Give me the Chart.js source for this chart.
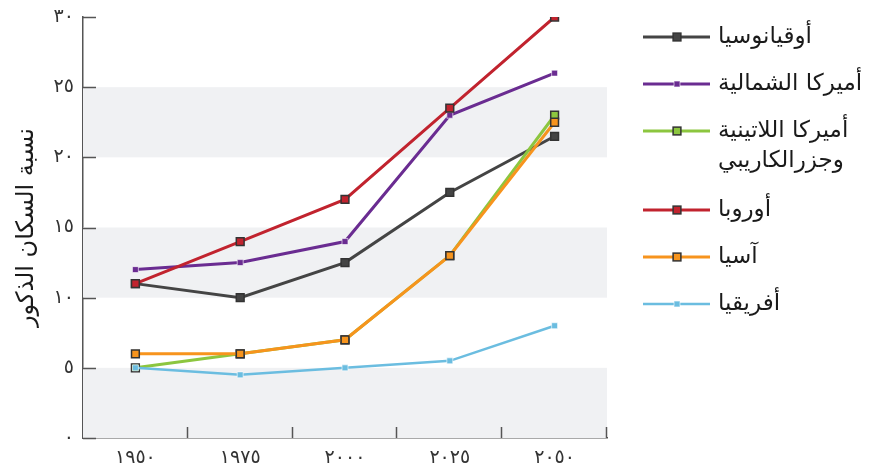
<!DOCTYPE html>
<html>
<head>
<meta charset="utf-8">
<script src="https://cdn.jsdelivr.net/npm/chart.js@4.4.0/dist/chart.umd.min.js"></script>
<style>
  html, body { margin: 0; padding: 0; background: #fff; }
  #wrap { width: 880px; height: 472px; }
</style>
</head>
<body>
<div id="wrap"><canvas id="myChart" width="880" height="472"></canvas></div>
<script>
const years = ['١٩٥٠', '١٩٧٥', '٢٠٠٠', '٢٠٢٥', '٢٠٥٠'];
const yTickLabels = ['٠', '٥', '١٠', '١٥', '٢٠', '٢٥', '٣٠'];

const oceania = [11, 10, 12.5, 17.5, 21.5];
const northAmerica = [12, 12.5, 14, 23, 26];
const latinAmerica = [5, 6, 7, 13, 23];
const europe = [11, 14, 17, 23.5, 30];
const asia = [6, 6, 7, 13, 22.5];
const africa = [5, 4.5, 5, 5.5, 8];

const seriesLabels = [
  ['أوقيانوسيا'],
  ['أميركا الشمالية'],
  ['أميركا اللاتينية', 'وجزرالكاريبي'],
  ['أوروبا'],
  ['آسيا'],
  ['أفريقيا'],
];

const FONT = '"DejaVu Sans", "Noto Sans", sans-serif';

function series(idx, data, color, opts) {
  return Object.assign({
    label: seriesLabels[idx].join(' '),
    data: data,
    borderColor: color,
    backgroundColor: color,
    borderWidth: 3,
    pointStyle: 'rect',
    pointRadius: 5.5,
    pointHoverRadius: 5.5,
    pointBackgroundColor: color,
    pointBorderColor: '#333',
    pointBorderWidth: 1.5,
    tension: 0,
    order: 6 - idx,
  }, opts || {});
}

// grey bands + inward ticks
const bandsPlugin = {
  id: 'bands',
  beforeDatasetsDraw(chart) {
    const { ctx, chartArea: a, scales: { x, y } } = chart;
    ctx.save();
    ctx.fillStyle = '#f0f1f3';
    for (let v = 0; v < 30; v += 10) {
      const top = y.getPixelForValue(v + 5);
      const bot = y.getPixelForValue(v);
      ctx.fillRect(a.left, top, a.right - a.left, bot - top);
    }
    ctx.strokeStyle = '#555';
    ctx.lineWidth = 1.5;
    ctx.beginPath();
    for (let v = 0; v <= 30; v += 5) {
      const py = Math.round(y.getPixelForValue(v)) + 0.5;
      ctx.moveTo(a.left, py);
      ctx.lineTo(a.left + 13, py);
    }
    const step = (a.right - a.left) / years.length;
    for (let i = 1; i <= years.length; i++) {
      const px = Math.round(a.left + i * step) - 0.5;
      ctx.moveTo(px, a.bottom);
      ctx.lineTo(px, a.bottom - 11);
    }
    ctx.stroke();
    ctx.restore();
  }
};

const legendPlugin = {
  id: 'sideLegend',
  afterDraw(chart) {
    const { ctx } = chart;
    ctx.save();
    ctx.font = '23px ' + FONT;
    ctx.textBaseline = 'middle';
    ctx.textAlign = 'left';
    let yPos = 37;
    chart.data.datasets.forEach((ds, i) => {
      ctx.strokeStyle = ds.borderColor;
      ctx.lineWidth = ds.borderWidth;
      ctx.beginPath();
      ctx.moveTo(643, yPos);
      ctx.lineTo(710, yPos);
      ctx.stroke();
      const s = ds.pointRadius * Math.SQRT1_2;
      ctx.fillStyle = ds.pointBackgroundColor;
      ctx.fillRect(677 - s, yPos - s, 2 * s, 2 * s);
      ctx.strokeStyle = ds.pointBorderColor;
      ctx.lineWidth = ds.pointBorderWidth;
      ctx.strokeRect(677 - s, yPos - s, 2 * s, 2 * s);
      ctx.fillStyle = '#1a1a1a';
      seriesLabels[i].forEach((line, j) => {
        ctx.fillText(line, 718, yPos + j * 30);
      });
      yPos += 47 + (seriesLabels[i].length - 1) * 32;
    });
    ctx.restore();
  }
};

new Chart('myChart', {
  type: 'line',
  data: {
    labels: years,
    datasets: [
      series(0, oceania, '#444444'),
      series(1, northAmerica, '#6a2c91', { pointRadius: 4.2, pointBorderColor: 'rgba(255,255,255,0.6)', pointBorderWidth: 1 }),
      series(2, latinAmerica, '#8cc63f'),
      series(3, europe, '#c1232e'),
      series(4, asia, '#f7941d'),
      series(5, africa, '#6bbde0', { borderWidth: 2.5, pointRadius: 4.2, pointBorderColor: 'rgba(255,255,255,0.6)', pointBorderWidth: 1 }),
    ],
  },
  options: {
    responsive: false,
    animation: false,
    layout: { padding: { top: 17, right: 273, left: 0, bottom: 0 } },
    plugins: { legend: { display: false }, tooltip: { enabled: false } },
    scales: {
      x: {
        offset: true,
        grid: { drawOnChartArea: false, drawTicks: false },
        border: { display: true, color: '#555', width: 1.5 },
        ticks: { color: '#333', font: { size: 19, family: FONT }, padding: 9 },
        afterFit(scale) { scale.height = 34; },
      },
      y: {
        min: 0,
        max: 30,
        grid: { drawOnChartArea: false, drawTicks: false },
        border: { display: true, color: '#555', width: 1.5 },
        ticks: {
          stepSize: 5,
          color: '#333',
          font: { size: 19, family: FONT },
          padding: 9,
          callback: (value, index) => yTickLabels[index],
        },
        title: {
          display: true,
          text: 'نسبة السكان الذكور',
          color: '#1a1a1a',
          font: { size: 24, family: FONT },
          padding: { top: 12, bottom: 0 },
        },
        afterFit(scale) {
          scale.width = 83;
          scale.paddingTop = 0;
          scale.paddingBottom = 0;
        },
      },
    },
  },
  plugins: [bandsPlugin, legendPlugin],
});
</script>
</body>
</html>
